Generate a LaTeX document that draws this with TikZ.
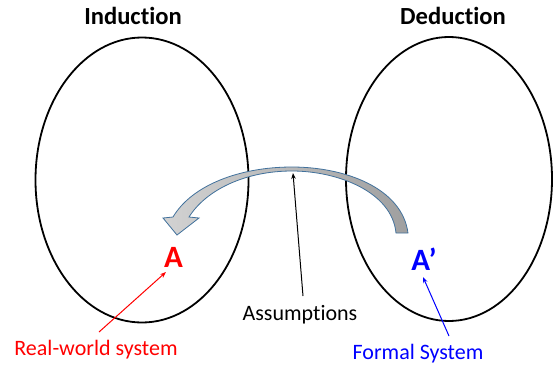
\documentclass[tikz,border=0pt]{standalone}
\usepackage{fontspec}
\setmainfont{Carlito}[Ligatures={NoCommon,NoContextual}]
\usetikzlibrary{arrows.meta}
\definecolor{arrowedge}{RGB}{65,113,156}
\begin{document}
\begin{tikzpicture}[x=1pt,y=-1pt,
  title/.style={font=\fontsize{24.6}{28}\selectfont\bfseries, anchor=base, inner sep=0},
  bigletter/.style={font=\fontsize{31}{36}\selectfont\bfseries, anchor=base, inner sep=0},
  lab/.style={font=\fontsize{22}{26}\selectfont, anchor=base, inner sep=0},
  oval/.style={draw=black, line width=1.8pt},
  ptr/.style={-{Stealth[length=6pt,width=4.5pt]}, line width=1pt},
  bigarrow/.style={draw=arrowedge, line width=0.8pt, left color=gray!35, right color=gray!75}]
\useasboundingbox (0,0) rectangle (554,367);
\draw[oval] (142,180) ellipse [x radius=106.5, y radius=142.5];
\draw[oval] (449,179) ellipse [x radius=103, y radius=142];
\node[title] (ind) at (133,24) {Induction};
\node[title] (ded) at (453,24) {Deduction};
\node[bigletter, text=red] (A) at (173.5,267) {A};
\node[bigletter, text=blue] (Ap) at (424,270) {A’};
\node[lab] (ass) at (300,320) {Assumptions};
\node[lab, text=red] (rw) at (96,355) {Real-world system};
\node[lab, text=blue] (fs) at (418,359) {Formal System};
% curved arrow
\path[bigarrow] (408,233) .. controls (402,188) and (345,167) .. (292,167)
  .. controls (240,167) and (192,185) .. (173,217)
  -- (163,218) -- (177,235) -- (199,218) -- (189,217)
  .. controls (206,190) and (245,171) .. (292,171)
  .. controls (338,171) and (392,192) .. (396,233) -- cycle;
% pointers
\coordinate (assTail) at (303,296);
\coordinate (assTip) at (293,173);
\coordinate (rwTail) at (99,332);
\coordinate (rwTip) at (166,272);
\coordinate (fsTail) at (449,336);
\coordinate (fsTip) at (423,277);
\draw[ptr, black] (assTail) -- (assTip);
\draw[ptr, red] (rwTail) -- (rwTip);
\draw[ptr, blue] (fsTail) -- (fsTip);
\end{tikzpicture}
\end{document}
